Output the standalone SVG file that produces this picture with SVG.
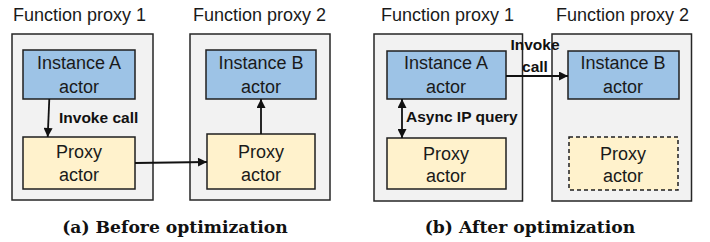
<svg xmlns="http://www.w3.org/2000/svg" width="710" height="242" viewBox="0 0 710 242">
<style>
.outer{fill:#f2f2f2;stroke:#262626;stroke-width:1.5}
.inst{fill:#9dc3e6;stroke:#1f1f1f;stroke-width:1.5}
.proxy{fill:#fff2cc;stroke:#1f1f1f;stroke-width:1.5}
.dash{stroke-dasharray:4 3}
.title{font-family:"Liberation Sans",Arial,sans-serif;font-size:18px;fill:#1a1a1a}
.lbl{font-family:"Liberation Sans",Arial,sans-serif;font-size:18px;fill:#1a1a1a;text-anchor:middle}
.el{font-family:"Liberation Sans",Arial,sans-serif;font-size:15.5px;font-weight:bold;fill:#111}
.cap{font-family:"DejaVu Serif",serif;font-size:17.2px;font-weight:bold;fill:#111;text-anchor:middle}
.conn{stroke:#111;stroke-width:1.8;fill:none}
</style>
<defs>
<marker id="ah" viewBox="0 0 10 10" refX="10" refY="5" markerWidth="10" markerHeight="9" markerUnits="userSpaceOnUse" orient="auto-start-reverse">
<path d="M0,0 L10,5 L0,10 z" fill="#111"/>
</marker>
</defs>

<g id="panel-a">
<g id="a-fp1"><rect class="outer" x="12" y="34" width="141" height="166"/><text class="title" x="13" y="21">Function proxy 1</text></g>
<g id="a-fp2"><rect class="outer" x="190" y="34" width="140" height="166"/><text class="title" x="193" y="21">Function proxy 2</text></g>
<g id="a-instA"><rect class="inst" x="23" y="50" width="112" height="49"/><text class="lbl" x="79" y="69">Instance A</text><text class="lbl" x="79" y="93">actor</text></g>
<g id="a-proxy1"><rect class="proxy" x="23" y="137" width="112" height="52"/><text class="lbl" x="79" y="158">Proxy</text><text class="lbl" x="79" y="181">actor</text></g>
<g id="a-instB"><rect class="inst" x="206" y="50" width="110" height="49"/><text class="lbl" x="261" y="69">Instance B</text><text class="lbl" x="261" y="93">actor</text></g>
<g id="a-proxy2"><rect class="proxy" x="207" y="134" width="108" height="55"/><text class="lbl" x="261" y="158">Proxy</text><text class="lbl" x="261" y="181">actor</text></g>
<text class="cap" x="175" y="233">(a) Before optimization</text>
</g>

<g id="panel-b">
<g id="b-fp1"><rect class="outer" x="374" y="34" width="148.5" height="167"/><text class="title" x="381" y="21">Function proxy 1</text></g>
<g id="b-fp2"><rect class="outer" x="552" y="34" width="139.5" height="167"/><text class="title" x="556" y="21">Function proxy 2</text></g>
<g id="b-instA"><rect class="inst" x="387" y="51" width="119" height="48"/><text class="lbl" x="446" y="69">Instance A</text><text class="lbl" x="446" y="93">actor</text></g>
<g id="b-proxy1"><rect class="proxy" x="387" y="138" width="119" height="51"/><text class="lbl" x="446" y="160">Proxy</text><text class="lbl" x="446" y="182">actor</text></g>
<g id="b-instB"><rect class="inst" x="568" y="51" width="111" height="48"/><text class="lbl" x="623" y="69">Instance B</text><text class="lbl" x="623" y="93">actor</text></g>
<g id="b-proxy2"><rect class="proxy dash" x="569" y="137" width="109" height="53"/><text class="lbl" x="623" y="160">Proxy</text><text class="lbl" x="623" y="182">actor</text></g>
<text class="cap" x="530" y="233">(b) After optimization</text>
</g>

<g id="connectors">
<line class="conn" x1="49.3" y1="99" x2="47.7" y2="137" marker-end="url(#ah)"/>
<text class="el" x="59" y="123">Invoke call</text>
<line class="conn" x1="135" y1="163" x2="207" y2="162" marker-end="url(#ah)"/>
<line class="conn" x1="261" y1="134" x2="261" y2="99" marker-end="url(#ah)"/>
<line class="conn" x1="506" y1="76" x2="568" y2="76" marker-end="url(#ah)"/>
<text class="el" x="535" y="50" text-anchor="middle">Invoke</text>
<text class="el" x="535" y="72" text-anchor="middle">call</text>
<line class="conn" x1="402" y1="99" x2="402" y2="138" marker-start="url(#ah)" marker-end="url(#ah)"/>
<text class="el" x="406" y="122">Async IP query</text>
</g>
</svg>
